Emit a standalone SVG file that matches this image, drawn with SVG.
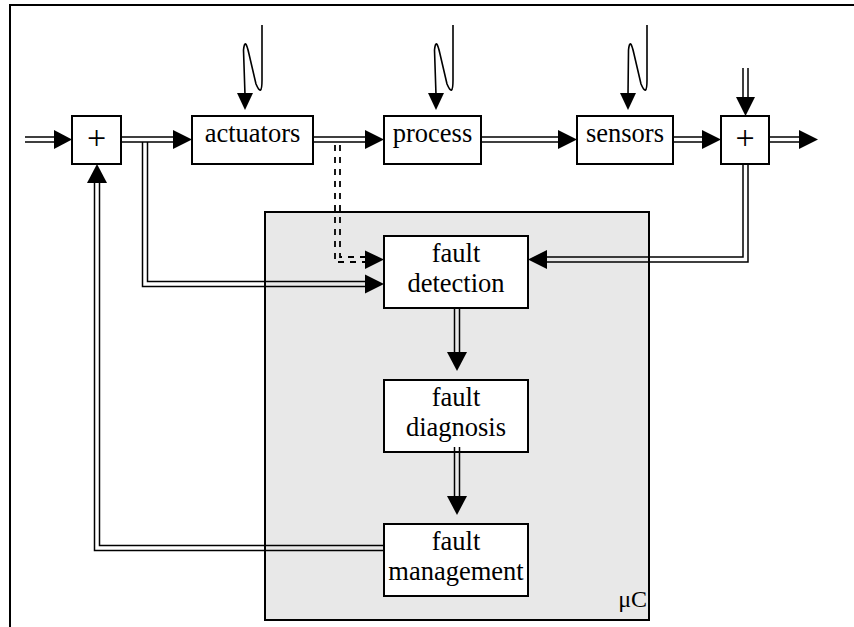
<svg xmlns="http://www.w3.org/2000/svg" width="854" height="627" viewBox="0 0 854 627">
  <style>
    .box { fill: #ffffff; stroke: #000000; stroke-width: 2; }
    .uc { fill: #e8e8e8; stroke: #000000; stroke-width: 2; }
    .lbl { font-family: "Liberation Serif", "Times New Roman", serif; font-size: 26.5px; fill: #000000; text-anchor: middle; }
    .plus { font-family: "Liberation Serif", "Times New Roman", serif; font-size: 34px; fill: #000000; text-anchor: middle; }
    .ln { fill: none; stroke: #000000; stroke-width: 1.5; }
    .dash { fill: none; stroke: #000000; stroke-width: 1.8; stroke-dasharray: 6 6; }
    .noise { fill: none; stroke: #000000; stroke-width: 1.6; stroke-linejoin: round; }
    .head { fill: #000000; stroke: none; }
    .frame { fill: none; stroke: #000000; stroke-width: 2; }
  </style>

  <!-- outer frame (top and left edges) -->
  <path class="frame" d="M10 627 V5 H854"/>

  <!-- microcontroller area -->
  <g id="uc">
    <rect class="uc" x="265" y="212" width="384" height="408"/>
    <text class="lbl" x="647" y="607" style="text-anchor:end;font-size:24px">μC</text>
  </g>

  <g id="sum-in">
    <rect class="box" x="72" y="116" width="49" height="48"/>
    <text class="plus" x="96.5" y="149">+</text>
  </g>
  <g id="actuators">
    <rect class="box" x="192" y="116" width="121" height="48"/>
    <text class="lbl" x="252.5" y="142">actuators</text>
  </g>
  <g id="process">
    <rect class="box" x="384" y="116" width="97" height="48"/>
    <text class="lbl" x="432.5" y="142">process</text>
  </g>
  <g id="sensors">
    <rect class="box" x="577" y="116" width="96" height="48"/>
    <text class="lbl" x="625" y="142">sensors</text>
  </g>
  <g id="sum-out">
    <rect class="box" x="721" y="116" width="48" height="48"/>
    <text class="plus" x="745" y="149">+</text>
  </g>
  <g id="fault-detection">
    <rect class="box" x="384" y="236" width="144" height="72"/>
    <text class="lbl" x="456" y="262">fault</text>
    <text class="lbl" x="456" y="292">detection</text>
  </g>
  <g id="fault-diagnosis">
    <rect class="box" x="384" y="380" width="144" height="72"/>
    <text class="lbl" x="456" y="406">fault</text>
    <text class="lbl" x="456" y="436">diagnosis</text>
  </g>
  <g id="fault-management">
    <rect class="box" x="384" y="524" width="144" height="72"/>
    <text class="lbl" x="456" y="550">fault</text>
    <text class="lbl" x="456" y="580">management</text>
  </g>

  <g id="connectors">
    <!-- input to first summation -->
    <path class="ln" d="M25 137 H55 M25 142 H55"/>
    <polygon class="head" points="54,130 54,149 72,139.5"/>

    <!-- summation to actuators -->
    <path class="ln" d="M121 137 H174 M121 142 H174"/>
    <polygon class="head" points="173,130 173,149 192,139.5"/>

    <!-- control signal branch into fault detection -->
    <path class="ln" d="M142.5 142 V286.5 H366 M147.5 142 V281.5 H366"/>
    <polygon class="head" points="365,274.5 365,293.5 384,284"/>

    <!-- actuators to process -->
    <path class="ln" d="M313 137 H366 M313 142 H366"/>
    <polygon class="head" points="365,130 365,149 384,139.5"/>

    <!-- dashed actuator signal into fault detection -->
    <path class="dash" d="M335 145 V262 H366"/>
    <path class="dash" d="M340 145 V257 H366"/>
    <polygon class="head" points="365,250.5 365,269 384,259.5"/>

    <!-- process to sensors -->
    <path class="ln" d="M481 137 H559 M481 142 H559"/>
    <polygon class="head" points="558,130 558,149 577,139.5"/>

    <!-- sensors to second summation -->
    <path class="ln" d="M673 137 H703 M673 142 H703"/>
    <polygon class="head" points="702,130 702,149 721,139.5"/>

    <!-- output -->
    <path class="ln" d="M769 137 H800 M769 142 H800"/>
    <polygon class="head" points="799,130 799,149 818,139.5"/>

    <!-- measurement noise into second summation -->
    <path class="ln" d="M743 68 V98 M748 68 V98"/>
    <polygon class="head" points="736,97 755,97 745.5,116"/>

    <!-- measured output back to fault detection -->
    <path class="ln" d="M748 164 V262 H546 M743 164 V257 H546"/>
    <polygon class="head" points="547,250 547,269 528,259.5"/>

    <!-- detection to diagnosis -->
    <path class="ln" d="M454.5 308 V353 M459.5 308 V353"/>
    <polygon class="head" points="447,352 467,352 457,371"/>

    <!-- diagnosis to management -->
    <path class="ln" d="M454.5 447 V497 M459.5 447 V497"/>
    <polygon class="head" points="447,496 467,496 457,515"/>

    <!-- management back to first summation -->
    <path class="ln" d="M385 550.5 H94.5 V182 M385 545.5 H99.5 V182"/>
    <polygon class="head" points="87,183 107,183 97,164"/>

    <!-- disturbances -->
    <path class="noise" d="M262 25 V80 Q262 98 256 84 L249 54 Q245 36 243.5 50 L245 95"/>
    <polygon class="head" points="237,93 253,93 245,110"/>
    <path class="noise" d="M453 25 V80 Q453 98 447 84 L440 54 Q436 36 434.5 50 L436 95"/>
    <polygon class="head" points="428,93 444,93 436,110"/>
    <path class="noise" d="M647 25 V80 Q647 98 641 84 L634 54 Q630 36 628.5 50 L628 95"/>
    <polygon class="head" points="620,93 636,93 628,110"/>
  </g>
</svg>
